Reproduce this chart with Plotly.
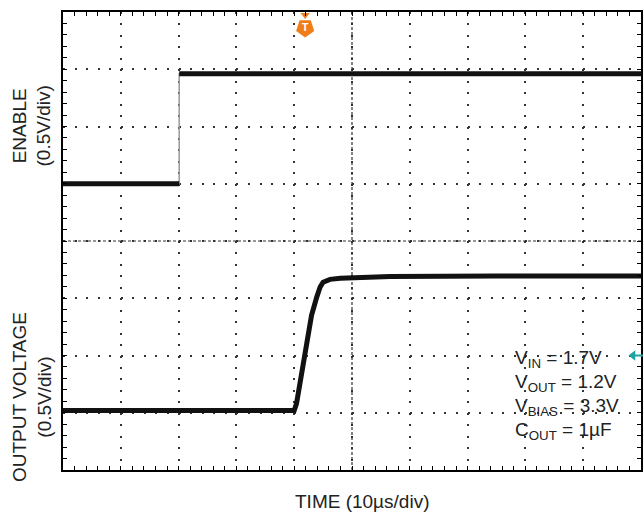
import plotly.graph_objects as go

# ---- data (time in µs, volts) ----
enable_t = [0, 20.1, 20.1, 100]
enable_v = [0.0, 0.0, 0.96, 0.96]

output_t = [0, 40.0, 40.4, 41.3, 41.8, 42.4, 43.0, 43.9, 44.5, 45.0, 45.6, 46.2, 48.0, 49.7, 56.6, 75, 100]
output_v = [0.02, 0.02, 0.08, 0.35, 0.52, 0.72, 0.85, 1.01, 1.10, 1.14, 1.156, 1.165, 1.175, 1.18, 1.19, 1.195, 1.195]

trig_t = 41.9          # trigger position (µs)
trig_level_div = 2.0   # trigger level marker (div)

volts_per_div = 0.5
enable_offset_div = 5.0
output_offset_div = 1.0

conditions = ["V<sub>IN</sub> = 1.7V", "V<sub>OUT</sub> = 1.2V",
              "V<sub>BIAS</sub> = 3.3V", "C<sub>OUT</sub> = 1µF"]

W, H = 644, 512
ML, MR, MT, MB = 63, 3, 12, 42
PW, PH = W - ML - MR, H - MT - MB

def px(xp):
    return (xp - ML) / PW

def py(yp):
    return (H - MB - yp) / PH

to_div = lambda v, off: [off + x / volts_per_div for x in v]

en_div = to_div(enable_v, enable_offset_div)
out_div = to_div(output_v, output_offset_div)

FONT = "Liberation Sans, Arial, sans-serif"
TXT = "#222222"
TEAL = "#1ea3a3"

fig = go.Figure()

# enable: thin gray edge + thick flat segments
fig.add_trace(go.Scatter(x=enable_t, y=en_div, mode="lines",
                         line=dict(color="#999999", width=1.5), hoverinfo="skip", showlegend=False))
thick_x = enable_t[:2] + [None] + enable_t[2:]
thick_y = en_div[:2] + [None] + en_div[2:]
fig.add_trace(go.Scatter(x=thick_x, y=thick_y, mode="lines", connectgaps=False,
                         line=dict(color="#111111", width=5), hoverinfo="skip", showlegend=False))

# output voltage
fig.add_trace(go.Scatter(x=output_t, y=out_div, mode="lines",
                         line=dict(color="#111111", width=5),
                         hoverinfo="skip", showlegend=False))

# trigger marker
fig.add_trace(go.Scatter(x=[trig_t], y=[8 - 3 / (PH / 8)], mode="markers",
                         marker=dict(symbol="triangle-down", size=8, color="#f07d1a"),
                         cliponaxis=False, hoverinfo="skip", showlegend=False))
fig.add_trace(go.Scatter(x=[trig_t], y=[8 - 16 / (PH / 8)], mode="markers+text",
                         marker=dict(symbol="pentagon", angle=180, size=19, color="#f07d1a"),
                         text=["<b>T</b>"], textposition="middle center",
                         textfont=dict(color="white", size=11, family=FONT),
                         cliponaxis=False, hoverinfo="skip", showlegend=False))

# trigger level marker (arrow head at right edge)
fig.add_trace(go.Scatter(x=[100 * px(633)], y=[trig_level_div], mode="markers",
                         marker=dict(symbol="triangle-left", size=9, color=TEAL),
                         cliponaxis=False, hoverinfo="skip", showlegend=False))

grid_col = "#333333"
fig.update_layout(
    width=W, height=H,
    margin=dict(l=ML, r=MR, t=MT, b=MB),
    paper_bgcolor="white", plot_bgcolor="white",
    xaxis=dict(range=[0, 100], dtick=10, tick0=0, showticklabels=False,
               showgrid=True, gridcolor=grid_col, gridwidth=2,
               griddash="2px,%.3fpx" % (PH / 40 - 2),
               ticks="inside", ticklen=4, tickcolor="black",
               minor=dict(dtick=2, tick0=0, ticks="inside", ticklen=4, tickcolor="black", showgrid=False),
               showline=True, linecolor="black", linewidth=2, mirror="allticks",
               zeroline=False, fixedrange=True, automargin=False),
    yaxis=dict(range=[0, 8], dtick=1, tick0=0, showticklabels=False,
               showgrid=True, gridcolor=grid_col, gridwidth=2,
               griddash="2px,%.3fpx" % (PW / 50 - 2),
               ticks="inside", ticklen=4, tickcolor="black",
               minor=dict(dtick=0.2, tick0=0, ticks="inside", ticklen=4, tickcolor="black", showgrid=False),
               showline=True, linecolor="black", linewidth=2, mirror="allticks",
               zeroline=False, fixedrange=True, automargin=False),
    xaxis2=dict(range=[0, 100], overlaying="x", anchor="free", position=0.5, side="bottom",
                dtick=2, tick0=0, ticks="outside", ticklen=3, tickcolor="black",
                showticklabels=False, showgrid=False, zeroline=False, showline=False, automargin=False),
    xaxis3=dict(range=[0, 100], overlaying="x", anchor="free", position=0.5, side="bottom",
                dtick=2, tick0=0, ticks="inside", ticklen=3, tickcolor="black",
                showticklabels=False, showgrid=False, zeroline=False, showline=False, automargin=False),
    yaxis2=dict(range=[0, 8], overlaying="y", anchor="free", position=0.5, side="left",
                dtick=0.2, tick0=0, ticks="outside", ticklen=3, tickcolor="black",
                showticklabels=False, showgrid=False, zeroline=False, showline=False, automargin=False),
    yaxis3=dict(range=[0, 8], overlaying="y", anchor="free", position=0.5, side="left",
                dtick=0.2, tick0=0, ticks="inside", ticklen=3, tickcolor="black",
                showticklabels=False, showgrid=False, zeroline=False, showline=False, automargin=False),
    shapes=[
        dict(type="line", xref="x", yref="y", x0=0, x1=100, y0=4, y1=4, layer="below",
             line=dict(color="#333333", width=1.2, dash="3px,2px")),
        dict(type="line", xref="x", yref="y", x0=50, x1=50, y0=0, y1=8, layer="below",
             line=dict(color="#333333", width=1.2, dash="3px,2px")),
        dict(type="line", xref="paper", yref="y", x0=px(634), x1=px(643),
             y0=trig_level_div, y1=trig_level_div, line=dict(color=TEAL, width=2)),
    ],
)

annos = [
    dict(text="ENABLE<br>(0.5V/div)", x=px(31.5), y=py(126), textangle=-90),
    dict(text="OUTPUT VOLTAGE<br>(0.5V/div)", x=px(31.5), y=py(397.5), textangle=-90),
    dict(text="TIME (10µs/div)", x=px(362), y=py(501)),
]
for a in annos:
    fig.add_annotation(xref="paper", yref="paper", showarrow=False,
                       xanchor="center", yanchor="middle",
                       font=dict(family=FONT, size=19, color=TXT), **a)

cond_y = [359, 383, 407, 431]
for txt, yy in zip(conditions, cond_y):
    fig.add_annotation(xref="paper", yref="paper", x=px(513), y=py(yy),
                       xanchor="left", yanchor="middle", align="left", showarrow=False,
                       text=txt, font=dict(family=FONT, size=19, color=TXT))

fig.write_html("out.html", config={"displayModeBar": False, "staticPlot": True},
               post_script="document.body.style.margin='0';document.body.style.overflow='hidden';")
